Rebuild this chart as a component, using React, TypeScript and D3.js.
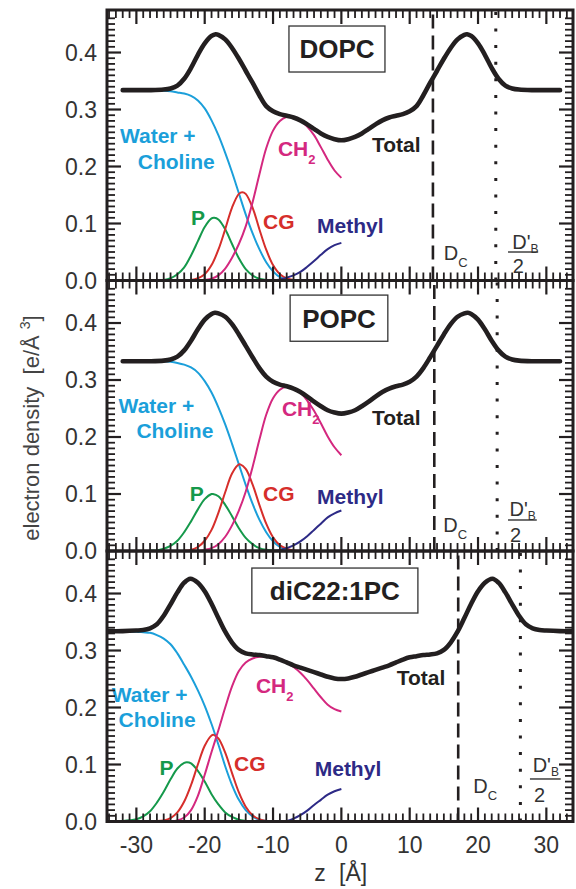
import React from "react";
import * as d3 from "d3";

type Pt = [number, number];

// ---- DOPC ----
const dopcTotal: Pt[] = [[-32,0.334],[-30,0.334],[-28,0.334],[-26,0.335],[-25,0.337],[-24,0.342],[-23,0.354],[-22,0.373],[-21,0.396],[-20,0.416],[-19,0.429],[-18.4,0.432],[-18,0.431],[-17,0.423],[-16,0.408],[-15,0.389],[-14,0.368],[-13,0.347],[-12,0.325],[-11,0.306],[-10,0.297],[-9,0.292],[-8,0.289],[-7,0.286],[-6,0.281],[-5,0.274],[-4,0.266],[-3,0.258],[-2,0.252],[-1,0.248],[0,0.246],[1,0.248],[2,0.252],[3,0.258],[4,0.266],[5,0.274],[6,0.281],[7,0.286],[8,0.289],[9,0.292],[10,0.297],[11,0.306],[12,0.325],[13,0.347],[14,0.368],[15,0.389],[16,0.408],[17,0.423],[18,0.431],[18.4,0.432],[19,0.429],[20,0.416],[21,0.396],[22,0.373],[23,0.354],[24,0.342],[25,0.337],[26,0.335],[28,0.334],[30,0.334],[32,0.334]];
const dopcWater: Pt[] = [[-32,0.333],[-30,0.333],[-28,0.333],[-26,0.333],[-25,0.332],[-24,0.330],[-23,0.328],[-22,0.324],[-21,0.316],[-20,0.302],[-19,0.281],[-18,0.255],[-17,0.224],[-16,0.190],[-15,0.153],[-14,0.116],[-13,0.083],[-12,0.055],[-11,0.032],[-10,0.016],[-9,0.006],[-8,0.002],[-7,0],[-4,0],[0,0]];
const dopcP: Pt[] = [[-27,0],[-26,0.001],[-25,0.004],[-24,0.011],[-23,0.023],[-22,0.044],[-21,0.069],[-20,0.094],[-19,0.109],[-18.6,0.110],[-18,0.107],[-17,0.090],[-16,0.064],[-15,0.039],[-14,0.020],[-13,0.009],[-12,0.003],[-11,0.001],[-10,0]];
const dopcCG: Pt[] = [[-23,0],[-22,0.001],[-21,0.004],[-20,0.011],[-19,0.027],[-18,0.054],[-17,0.090],[-16,0.128],[-15,0.152],[-14.5,0.155],[-14,0.152],[-13,0.128],[-12,0.090],[-11,0.054],[-10,0.027],[-9,0.011],[-8,0.004],[-7,0.001],[-6,0]];
const dopcCH2: Pt[] = [[-21,0],[-20,0.001],[-19,0.003],[-18,0.009],[-17,0.021],[-16,0.040],[-15,0.064],[-14,0.095],[-13,0.137],[-12,0.186],[-11,0.232],[-10,0.263],[-9,0.280],[-8,0.287],[-7.5,0.288],[-7,0.287],[-6,0.281],[-5,0.270],[-4,0.255],[-3,0.234],[-2,0.212],[-1,0.193],[0,0.180]];
const dopcMethyl: Pt[] = [[-10,0],[-9,0.002],[-8,0.005],[-7,0.009],[-6,0.015],[-5,0.024],[-4,0.034],[-3,0.045],[-2,0.055],[-1,0.062],[0,0.066]];

// ---- POPC ----
const popcTotal: Pt[] = [[-32,0.333],[-30,0.333],[-28,0.333],[-26,0.334],[-25,0.336],[-24,0.341],[-23,0.352],[-22,0.369],[-21,0.389],[-20,0.406],[-19,0.416],[-18.5,0.418],[-18,0.417],[-17,0.411],[-16,0.398],[-15,0.380],[-14,0.360],[-13,0.340],[-12,0.321],[-11,0.306],[-10,0.297],[-9,0.292],[-8,0.289],[-7,0.285],[-6,0.279],[-5,0.271],[-4,0.262],[-3,0.254],[-2,0.247],[-1,0.243],[0,0.241],[1,0.243],[2,0.247],[3,0.254],[4,0.262],[5,0.271],[6,0.279],[7,0.285],[8,0.289],[9,0.292],[10,0.297],[11,0.306],[12,0.321],[13,0.340],[14,0.360],[15,0.380],[16,0.398],[17,0.411],[18,0.417],[18.5,0.418],[19,0.416],[20,0.406],[21,0.389],[22,0.369],[23,0.352],[24,0.341],[25,0.336],[26,0.334],[28,0.333],[30,0.333],[32,0.333]];
const popcWater: Pt[] = [[-32,0.333],[-30,0.333],[-28,0.333],[-26,0.333],[-25,0.332],[-24,0.330],[-23,0.327],[-22,0.322],[-21,0.313],[-20,0.298],[-19,0.278],[-18,0.252],[-17,0.222],[-16,0.188],[-15,0.152],[-14,0.116],[-13,0.083],[-12,0.055],[-11,0.033],[-10,0.017],[-9,0.007],[-8,0.002],[-7,0],[-4,0],[0,0]];
const popcP: Pt[] = [[-28,0.001],[-27,0.001],[-26,0.004],[-25,0.009],[-24,0.018],[-23,0.033],[-22,0.052],[-21,0.073],[-20,0.091],[-19,0.100],[-18.8,0.100],[-18,0.096],[-17,0.081],[-16,0.061],[-15,0.040],[-14,0.023],[-13,0.012],[-12,0.005],[-11,0.002],[-10,0.001],[-9,0]];
const popcCG: Pt[] = [[-23,0.001],[-22,0.002],[-21,0.007],[-20,0.018],[-19,0.037],[-18,0.067],[-17,0.103],[-16,0.136],[-15,0.152],[-14.8,0.152],[-14,0.144],[-13,0.117],[-12,0.081],[-11,0.048],[-10,0.024],[-9,0.010],[-8,0.004],[-7,0.001],[-6,0]];
const popcCH2: Pt[] = [[-21,0],[-20,0.002],[-19,0.005],[-18,0.012],[-17,0.025],[-16,0.045],[-15,0.071],[-14,0.104],[-13,0.147],[-12,0.195],[-11,0.239],[-10,0.268],[-9,0.283],[-8,0.288],[-7,0.286],[-6,0.278],[-5,0.264],[-4,0.246],[-3,0.224],[-2,0.201],[-1,0.182],[0,0.168]];
const popcMethyl: Pt[] = [[-10,0],[-9,0.002],[-8,0.005],[-7,0.010],[-6,0.017],[-5,0.026],[-4,0.037],[-3,0.048],[-2,0.059],[-1,0.066],[0,0.071]];

// ---- diC22:1PC ----
const dic22Total: Pt[] = [[-34.5,0.334],[-32,0.334],[-30,0.335],[-29,0.336],[-28,0.339],[-27,0.346],[-26,0.361],[-25,0.381],[-24,0.402],[-23,0.419],[-22.1,0.426],[-21,0.419],[-20,0.404],[-19,0.382],[-18,0.357],[-17,0.333],[-16,0.314],[-15,0.301],[-14,0.295],[-13,0.293],[-12,0.292],[-11,0.290],[-10,0.288],[-9,0.284],[-8,0.279],[-7,0.274],[-6,0.270],[-5,0.266],[-4,0.262],[-3,0.258],[-2,0.254],[-1,0.251],[0,0.250],[1,0.251],[2,0.254],[3,0.258],[4,0.262],[5,0.266],[6,0.270],[7,0.274],[8,0.279],[9,0.284],[10,0.288],[11,0.290],[12,0.292],[13,0.293],[14,0.295],[15,0.301],[16,0.314],[17,0.333],[18,0.357],[19,0.382],[20,0.404],[21,0.419],[22.1,0.426],[23,0.419],[24,0.402],[25,0.381],[26,0.361],[27,0.346],[28,0.339],[29,0.336],[30,0.335],[32,0.334],[34.5,0.334]];
const dic22Water: Pt[] = [[-34.5,0.333],[-32,0.333],[-30,0.333],[-29,0.332],[-28,0.331],[-27,0.327],[-26,0.321],[-25,0.311],[-24,0.295],[-23,0.275],[-22,0.254],[-21,0.230],[-20,0.203],[-19,0.171],[-18,0.135],[-17,0.097],[-16,0.064],[-15,0.038],[-14,0.020],[-13,0.009],[-12,0.003],[-11,0.001],[-10,0],[-5,0],[0,0]];
const dic22P: Pt[] = [[-32,0.001],[-31,0.002],[-30,0.004],[-29,0.009],[-28,0.018],[-27,0.033],[-26,0.052],[-25,0.074],[-24,0.093],[-23,0.103],[-22.6,0.104],[-22,0.102],[-21,0.089],[-20,0.070],[-19,0.048],[-18,0.030],[-17,0.016],[-16,0.008],[-15,0.003],[-14,0.001],[-13,0]];
const dic22CG: Pt[] = [[-27,0.001],[-26,0.002],[-25,0.006],[-24,0.016],[-23,0.035],[-22,0.064],[-21,0.100],[-20,0.133],[-19,0.151],[-18.7,0.152],[-18,0.146],[-17,0.121],[-16,0.085],[-15,0.051],[-14,0.026],[-13,0.011],[-12,0.004],[-11,0.001],[-10,0]];
const dic22CH2: Pt[] = [[-25,0],[-24,0.002],[-23,0.007],[-22,0.020],[-21,0.045],[-20,0.082],[-19,0.122],[-18,0.160],[-17,0.200],[-16,0.237],[-15,0.264],[-14,0.279],[-13,0.286],[-12,0.289],[-11,0.290],[-10,0.289],[-9,0.285],[-8,0.279],[-7,0.271],[-6,0.261],[-5,0.248],[-4,0.233],[-3,0.218],[-2,0.205],[-1,0.197],[0,0.193]];
const dic22Methyl: Pt[] = [[-9,0],[-8,0.001],[-7,0.005],[-6,0.011],[-5,0.019],[-4,0.029],[-3,0.038],[-2,0.047],[-1,0.053],[0,0.057]];

const lipidNames = ["DOPC", "POPC", "diC22:1PC"];
const dcValues = [13.4, 13.6, 17.1];
const dbHalfValues = [22.6, 22.8, 26.2];

const xMajor = [-30, -20, -10, 0, 10, 20, 30];
const yMajor = [0, 0.1, 0.2, 0.3, 0.4];

const colors = {
  total: "#231f20",
  water: "#1b9fda",
  p: "#15994b",
  cg: "#d62e2b",
  ch2: "#d4287f",
  methyl: "#2d2a86",
};

const left = 107, right = 573;
const panelH = 270.5;
const yMax = 0.4746;
const font = "'Liberation Sans', Arial, Helvetica, sans-serif";

// label placement per panel (data coordinates)
const panels = [
  {
    name: lipidNames[0], top: 10, dc: dcValues[0], db: dbHalfValues[0],
    series: { total: dopcTotal, water: dopcWater, p: dopcP, cg: dopcCG, ch2: dopcCH2, methyl: dopcMethyl },
    box: [-7.67, 6.38, 0.4465, 0.3658],
    lab: { water: [-32.4, 0.242], choline: [-29.8, 0.195], p: [-22.0, 0.098], cg: [-11.47, 0.0895], ch2: [-9.28, 0.219], methyl: [-3.57, 0.084], total: [4.48, 0.2246] },
    dcLab: [15.0, 0.036], dbLab: [25.0, 0.0553], dbLine: [24.4, 28.8, 0.050], dbTwo: [25.9, 0.013],
  },
  {
    name: lipidNames[1], top: 280.5, dc: dcValues[1], db: dbHalfValues[1],
    series: { total: popcTotal, water: popcWater, p: popcP, cg: popcCG, ch2: popcCH2, methyl: popcMethyl },
    box: [-7.5, 6.8, 0.449, 0.368],
    lab: { water: [-32.6, 0.243], choline: [-30.0, 0.198], p: [-22.2, 0.087], cg: [-11.47, 0.087], ch2: [-8.7, 0.236], methyl: [-3.57, 0.0833], total: [4.48, 0.2202] },
    dcLab: [14.9, 0.0333], dbLab: [24.6, 0.0614], dbLine: [24.4, 28.6, 0.0544], dbTwo: [25.5, 0.0158],
  },
  {
    name: lipidNames[2], top: 551, dc: dcValues[2], db: dbHalfValues[2],
    series: { total: dic22Total, water: dic22Water, p: dic22P, cg: dic22CG, ch2: dic22CH2, methyl: dic22Methyl },
    box: [-13.1, 11.2, 0.4447, 0.3658],
    lab: { water: [-33.6, 0.2105], choline: [-32.6, 0.165], p: [-26.6, 0.082], cg: [-15.7, 0.088], ch2: [-12.5, 0.226], methyl: [-3.9, 0.079], total: [8.1, 0.240] },
    dcLab: [19.3, 0.050], dbLab: [28.0, 0.087], dbLine: [27.6, 32.1, 0.0746], dbTwo: [29.0, 0.034],
  },
];

const x = d3.scaleLinear().domain([-34.3, 33.9]).range([left, right]);
const xMinor = d3.range(-34, 34, 1);
const yMinor = d3.range(0, 0.47, 0.01);
const ink = "#231f20";

function Ticks({ y, top, bottom }: { y: d3.ScaleLinear<number, number>; top: number; bottom: number }) {
  const minL = 8, majL = 14;
  const segs: [number, number, number, number, boolean][] = [];
  xMinor.forEach((t) => {
    const maj = xMajor.includes(t);
    const L = maj ? majL : minL;
    segs.push([x(t), bottom, x(t), bottom - L, maj]);
    segs.push([x(t), top, x(t), top + L, maj]);
  });
  yMinor.forEach((t, i) => {
    const maj = i % 10 === 0;
    const L = maj ? majL : minL;
    segs.push([left, y(t), left + L, y(t), maj]);
    segs.push([right, y(t), right - L, y(t), maj]);
  });
  return (
    <g>
      {segs.map((s, i) => (
        <line key={i} x1={s[0]} y1={s[1]} x2={s[2]} y2={s[3]} stroke={ink} strokeWidth={s[4] ? 2.2 : 1.8} />
      ))}
    </g>
  );
}

function Panel({ p, idx }: { p: any; idx: number }) {
  const top = p.top;
  const bottom = top + panelH;
  const y = d3.scaleLinear().domain([0, yMax]).range([bottom, top]);
  const line = d3
    .line<Pt>()
    .x((d) => x(d[0]))
    .y((d) => y(d[1]))
    .curve(d3.curveCatmullRom.alpha(0.5));
  const clipId = `clip${idx}`;
  const lab = p.lab;
  const comp = ["water", "p", "cg", "ch2", "methyl"];
  return (
    <g>
      <clipPath id={clipId}>
        <rect x={left} y={top} width={right - left} height={panelH} />
      </clipPath>
      <g clipPath={`url(#${clipId})`}>
        <line x1={x(p.dc)} x2={x(p.dc)} y1={bottom} y2={top} stroke={ink} strokeWidth={2.6} strokeDasharray="14,7" />
        <line x1={x(p.db)} x2={x(p.db)} y1={bottom} y2={top} stroke={ink} strokeWidth={3} strokeDasharray="3,13.6" />
        {comp.map((k) => (
          <path key={k} d={line(p.series[k]) || ""} fill="none" stroke={(colors as any)[k]} strokeWidth={2} />
        ))}
        <path d={line(p.series.total) || ""} fill="none" stroke={colors.total} strokeWidth={4.6} strokeLinejoin="round" strokeLinecap="round" />
      </g>

      {/* name box */}
      <rect x={x(p.box[0])} y={y(p.box[2])} width={x(p.box[1]) - x(p.box[0])} height={y(p.box[3]) - y(p.box[2])} fill="#fff" stroke="#333" strokeWidth={1.3} />
      <text x={(x(p.box[0]) + x(p.box[1])) / 2} y={(y(p.box[2]) + y(p.box[3])) / 2} dy="0.36em" textAnchor="middle" fontFamily={font} fontWeight="bold" fontSize={26} fill={ink}>{p.name}</text>

      {/* component labels */}
      <g fontFamily={font} fontWeight="bold" fontSize={21}>
        <text x={x(lab.water[0])} y={y(lab.water[1])} fill={colors.water}>Water +</text>
        <text x={x(lab.choline[0])} y={y(lab.choline[1])} fill={colors.water}>Choline</text>
        <text x={x(lab.p[0])} y={y(lab.p[1])} fill={colors.p}>P</text>
        <text x={x(lab.cg[0])} y={y(lab.cg[1])} fill={colors.cg}>CG</text>
        <text x={x(lab.ch2[0])} y={y(lab.ch2[1])} fill={colors.ch2}>CH<tspan fontSize={13} dy={8}>2</tspan></text>
        <text x={x(lab.methyl[0])} y={y(lab.methyl[1])} fill={colors.methyl}>Methyl</text>
        <text x={x(lab.total[0])} y={y(lab.total[1])} fill={colors.total}>Total</text>
      </g>

      {/* D_C and D'_B / 2 */}
      <g fontFamily={font} fontSize={20} fill="#333">
        <text x={x(p.dcLab[0])} y={y(p.dcLab[1])}>D<tspan fontSize={13} dy={7}>C</tspan></text>
        <text x={x(p.dbLab[0])} y={y(p.dbLab[1])}>D'<tspan fontSize={12} dy={4}>B</tspan></text>
        <line x1={x(p.dbLine[0])} x2={x(p.dbLine[1])} y1={y(p.dbLine[2])} y2={y(p.dbLine[2])} stroke="#333" strokeWidth={1.4} />
        <text x={x(p.dbTwo[0])} y={y(p.dbTwo[1])} textAnchor="middle">2</text>
      </g>

      {/* ticks and frame */}
      <Ticks y={y} top={top} bottom={bottom} />
      <rect x={left} y={top} width={right - left} height={panelH} fill="none" stroke={ink} strokeWidth={3} />

      {/* y tick labels */}
      <g fontFamily={font} fontSize={23} fill="#333" textAnchor="end">
        {yMajor.map((t) => (
          <text key={"yl" + t} x={97} y={y(t)} dy="0.36em">{d3.format(".1f")(t)}</text>
        ))}
      </g>
    </g>
  );
}

export default function App() {
  const bottom = panels[2].top + panelH;
  return (
    <svg width={576} height={889} style={{ position: "absolute", left: 0, top: 0, background: "#fff" }}>
      {panels.map((p, i) => (
        <Panel key={p.name} p={p} idx={i} />
      ))}
      <g fontFamily={font} fontSize={23} fill="#333" textAnchor="middle">
        {xMajor.map((t) => (
          <text key={"xl" + t} x={x(t)} y={bottom + 31}>{t}</text>
        ))}
        <text x={320} y={881}>z</text>
        <text x={339} y={881} textAnchor="start">[Å]</text>
      </g>
      <text transform="translate(39,428) rotate(-90)" textAnchor="middle" fontFamily={font} fontSize={22} fill="#444" style={{ whiteSpace: "pre" }}>
        {"electron density  [e/Å "}
        <tspan fontSize={14} dy={-9}>3</tspan>
        <tspan dy={9}>]</tspan>
      </text>
    </svg>
  );
}
